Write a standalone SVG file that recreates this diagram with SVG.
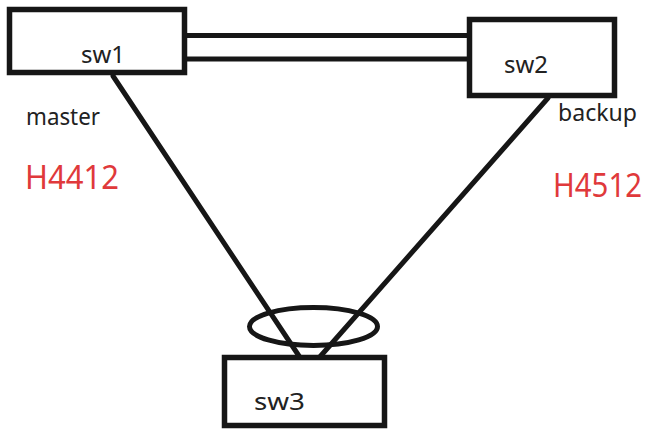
<svg xmlns="http://www.w3.org/2000/svg" width="651" height="430" viewBox="0 0 651 430">
<style>
.box{fill:#fff;stroke:#161616;stroke-width:5.5}
.ln{stroke:#161616;stroke-width:5;stroke-linecap:round;fill:none}
.lbl{font-family:"Noto Sans","Open Sans",sans-serif;font-size:23px;fill:#222}
.red{font-family:"Noto Sans","Open Sans",sans-serif;font-size:32px;fill:#e0393b}
</style>
<rect width="651" height="430" fill="#fff"/>
<g id="connectors">
<line class="ln" x1="180" y1="35.5" x2="475" y2="35.5"/>
<line class="ln" x1="184" y1="59" x2="470" y2="59"/>
<line class="ln" x1="113" y1="76" x2="301" y2="359"/>
<line class="ln" x1="548" y1="98" x2="318" y2="359"/>
<ellipse class="ln" cx="313.5" cy="326.5" rx="64" ry="19"/>
</g>
<g id="sw1">
<rect class="box" x="9.5" y="9.5" width="175" height="63"/>
<text class="lbl" x="81" y="63" textLength="44" lengthAdjust="spacingAndGlyphs">sw1</text>
</g>
<g id="sw2">
<rect class="box" x="469.5" y="19.5" width="145" height="76"/>
<text class="lbl" x="504" y="73" textLength="44" lengthAdjust="spacingAndGlyphs">sw2</text>
</g>
<g id="sw3">
<rect class="box" x="224.5" y="357.5" width="160" height="68"/>
<text class="lbl" x="254" y="410" textLength="51" lengthAdjust="spacingAndGlyphs">sw3</text>
</g>
<text class="lbl" x="26" y="125" textLength="74" lengthAdjust="spacingAndGlyphs">master</text>
<text class="lbl" x="558" y="121" textLength="79" lengthAdjust="spacingAndGlyphs">backup</text>
<text class="red" x="25" y="189" textLength="94" lengthAdjust="spacingAndGlyphs">H4412</text>
<text class="red" x="553" y="197" textLength="89" lengthAdjust="spacingAndGlyphs">H4512</text>
</svg>
